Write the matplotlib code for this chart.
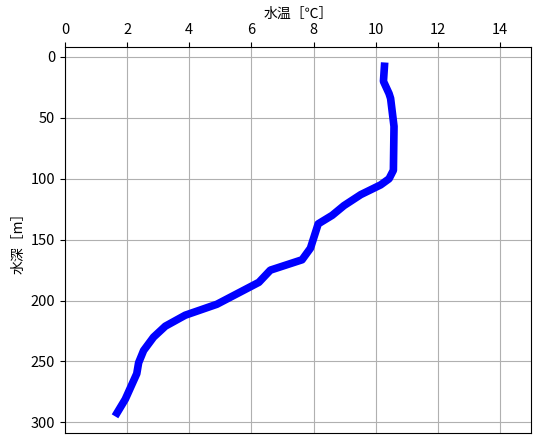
import matplotlib
matplotlib.use("Agg")
import matplotlib.pyplot as plt

plt.rcParams['font.family'] = ['Noto Sans CJK JP', 'DejaVu Sans']

temperature = [10.29, 10.25, 10.43, 10.48, 10.59, 10.57, 10.43, 10.16, 9.52, 8.98, 8.6, 8.15,
               7.9, 7.63, 6.61, 6.24, 4.89, 3.87, 3.23, 2.85, 2.53, 2.37, 2.31, 1.94, 1.61]
depth = [4.5, 20, 30, 34, 57, 93, 100, 105, 113, 122, 130, 137,
         157, 166.5, 175, 185, 203, 212, 221, 230, 241, 251, 260, 281, 295]

fig = plt.figure(figsize=(5.39, 4.43), dpi=100)
ax = fig.add_axes([0.1206, 0.0226, 0.8646, 0.8713])
ax.plot(temperature, depth, color='blue', linewidth=5.5, solid_capstyle='butt')
ax.set_xlim(0, 15)
ax.set_ylim(308.7, -8.2)
ax.xaxis.tick_top()
ax.xaxis.set_label_position('top')
ax.set_xlabel('水温［℃］')
ax.set_ylabel('水深［m］')
ax.set_yticks([0, 50, 100, 150, 200, 250, 300])
ax.tick_params(labelsize=10.5)
ax.grid(True, color='#b0b0b0')
ax.set_axisbelow(True)
fig.savefig('out.png', dpi=100)
